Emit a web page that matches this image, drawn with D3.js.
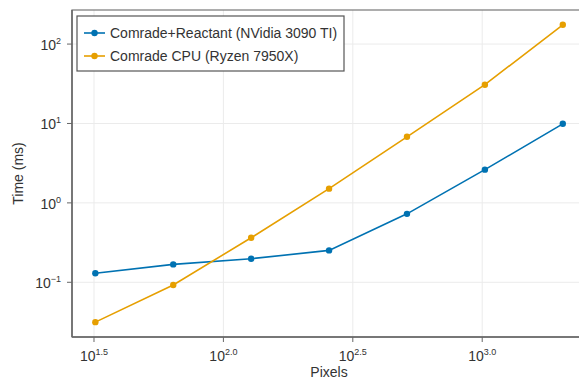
<!DOCTYPE html>
<html>
<head>
<meta charset="utf-8">
<script src="https://cdn.jsdelivr.net/npm/d3@7"></script>
<style>
  body { margin: 0; background: #fff; }
  svg { display: block; font-family: "Liberation Sans", Arial, sans-serif; }
</style>
</head>
<body>
<svg id="chart" width="579" height="381"></svg>
<script>
// data
const pixels = [32, 64, 128, 256, 512, 1024, 2048];
const gpuTimes = [0.130, 0.168, 0.198, 0.252, 0.728, 2.62, 9.9];
const cpuTimes = [0.0315, 0.0925, 0.364, 1.51, 6.79, 30.8, 175];
const seriesNames = ["Comrade+Reactant (NVidia 3090 TI)", "Comrade CPU (Ryzen 7950X)"];
const seriesColors = ["#0072b2", "#e69f00"];
const xTickExp = [1.5, 2.0, 2.5, 3.0];
const yTickExp = [-1, 0, 1, 2];

const svg = d3.select("#chart");
const pLeft = 72, pRight = 586, pTop = 10, pBottom = 337;

// log axes with makie-like 5% padding
const x = d3.scaleLog().domain([Math.pow(10, 1.415), Math.pow(10, 3.401)]).range([pLeft, pRight]);
const y = d3.scaleLog().domain([Math.pow(10, -1.689), Math.pow(10, 2.429)]).range([pBottom, pTop]);

// grid
svg.append("g").selectAll("line").data(xTickExp).join("line")
  .attr("x1", d => x(Math.pow(10, d))).attr("x2", d => x(Math.pow(10, d)))
  .attr("y1", pTop).attr("y2", pBottom)
  .attr("stroke", "#ebebeb").attr("stroke-width", 1);
svg.append("g").selectAll("line").data(yTickExp).join("line")
  .attr("y1", d => y(Math.pow(10, d))).attr("y2", d => y(Math.pow(10, d)))
  .attr("x1", pLeft).attr("x2", pRight)
  .attr("stroke", "#ebebeb").attr("stroke-width", 1);

// frame
svg.append("rect").attr("x", pLeft).attr("y", pTop)
  .attr("width", pRight - pLeft).attr("height", pBottom - pTop)
  .attr("fill", "none").attr("stroke", "#777").attr("stroke-width", 1.2);
svg.append("line").attr("x1", pLeft).attr("x2", pLeft).attr("y1", pTop).attr("y2", pBottom)
  .attr("stroke", "#666").attr("stroke-width", 1.5);
svg.append("line").attr("x1", pLeft).attr("x2", pRight).attr("y1", pBottom).attr("y2", pBottom)
  .attr("stroke", "#666").attr("stroke-width", 1.5);

// ticks
const xt = svg.append("g").selectAll("g").data(xTickExp).join("g")
  .attr("transform", d => `translate(${x(Math.pow(10, d))},${pBottom})`);
xt.append("line").attr("y1", 0).attr("y2", 5).attr("stroke", "#666");
const xtext = xt.append("text").attr("y", 24).attr("text-anchor", "middle")
  .attr("font-size", 14).attr("fill", "#333");
xtext.append("tspan").text("10");
xtext.append("tspan").attr("dy", -6).attr("font-size", 9).text(d => d.toFixed(1));

const yt = svg.append("g").selectAll("g").data(yTickExp).join("g")
  .attr("transform", d => `translate(${pLeft},${y(Math.pow(10, d))})`);
yt.append("line").attr("x1", 0).attr("x2", -5).attr("stroke", "#666");
const ytext = yt.append("text").attr("x", -11).attr("y", 6).attr("text-anchor", "end")
  .attr("font-size", 14).attr("fill", "#333");
ytext.append("tspan").text("10");
ytext.append("tspan").attr("dy", -6).attr("font-size", 9).text(d => d < 0 ? "\u2212" + (-d) : d);

// axis labels
svg.append("text").attr("x", 329).attr("y", 377).attr("text-anchor", "middle")
  .attr("font-size", 14).attr("fill", "#333").text("Pixels");
svg.append("text").attr("transform", `translate(23,${(pTop + pBottom) / 2}) rotate(-90)`)
  .attr("text-anchor", "middle").attr("font-size", 14).attr("fill", "#333").text("Time (ms)");

// series
const line = d3.line().x(d => x(d[0])).y(d => y(d[1]));
[gpuTimes, cpuTimes].forEach((vals, i) => {
  const pts = pixels.map((p, j) => [p, vals[j]]);
  svg.append("path").datum(pts).attr("d", line)
    .attr("fill", "none").attr("stroke", seriesColors[i]).attr("stroke-width", 1.6);
  svg.append("g").selectAll("circle").data(pts).join("circle")
    .attr("cx", d => x(d[0])).attr("cy", d => y(d[1])).attr("r", 3.2)
    .attr("fill", seriesColors[i]);
});

// legend
const lg = svg.append("g");
lg.append("rect").attr("x", 77).attr("y", 16).attr("width", 267).attr("height", 55)
  .attr("fill", "#fff").attr("stroke", "#555").attr("stroke-width", 1.2);
seriesNames.forEach((name, i) => {
  const cy = 33 + i * 23;
  lg.append("line").attr("x1", 84).attr("x2", 105).attr("y1", cy).attr("y2", cy)
    .attr("stroke", seriesColors[i]).attr("stroke-width", 1.6);
  lg.append("circle").attr("cx", 94.5).attr("cy", cy).attr("r", 3.2).attr("fill", seriesColors[i]);
  lg.append("text").attr("x", 110).attr("y", cy + 5).attr("font-size", 14)
    .attr("fill", "#333").text(name);
});
</script>
</body>
</html>
